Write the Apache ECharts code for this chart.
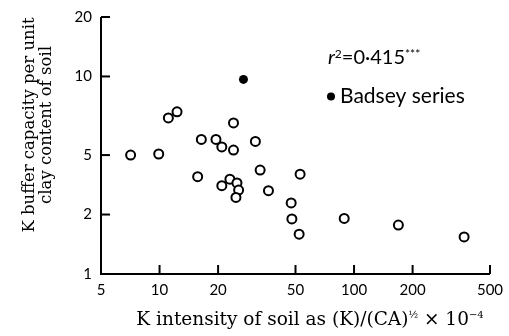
<!DOCTYPE html>
<html>
<head>
<meta charset="utf-8">
<script src="https://cdn.jsdelivr.net/npm/echarts@6/dist/echarts.min.js"></script>
<style>
  html, body { margin: 0; padding: 0; background: #fff; }
  #chart { width: 509px; height: 336px; }
</style>
</head>
<body>
<div id="chart"></div>
<script>
// values (both axes are log scales)
const intensity = [7.1, 9.9, 11.1, 12.3, 16.4, 15.7, 19.5, 20.9, 24.0, 24.0, 20.9, 23.0, 25.0,
  25.5, 24.7, 31.1, 32.9, 36.3, 47.5, 47.9, 52.2, 52.8, 89, 169, 368];
const buffer = [4.0, 4.05, 6.17, 6.62, 4.8, 3.11, 4.8, 4.4, 5.82, 4.24, 2.8, 3.02, 2.89,
  2.66, 2.44, 4.69, 3.36, 2.64, 2.29, 1.9, 1.59, 3.2, 1.91, 1.77, 1.54];
const badseyIntensity = [27.0];
const badseyBuffer = [9.66];

const xTicks = [5, 10, 20, 50, 100, 200, 500];
const xTickLabels = ['5', '10', '20', '50', '100', '200', '500'];
// the original figure draws its "5" tick at the height of 4 on the log scale
const yTicks = [1, 2, 4, 10, 20];
const yTickLabels = ['1', '2', '5', '10', '20'];

// axes run on log10 of the values
const lg = (v) => Math.log10(v);

const chart = echarts.init(document.getElementById('chart'));

const tickFont = { fontFamily: 'Lato', fontSize: 15, color: '#000' };
const titleFont = 'DejaVu Serif';

function logAxis(ticks, labels) {
  return {
    type: 'value',
    min: lg(ticks[0]),
    max: lg(ticks[ticks.length - 1]),
    // line and ticks are drawn below as graphics (v6 drops them with label customValues)
    axisLine: { show: false, onZero: false },
    axisTick: { show: false },
    axisLabel: {
      margin: 9,
      customValues: ticks.map(lg),
      formatter: (v) => {
        const i = ticks.findIndex((t) => Math.abs(lg(t) - v) < 1e-6);
        return i < 0 ? '' : labels[i];
      },
      ...tickFont,
    },
    splitLine: { show: false },
  };
}

const texts = [
  {
    type: 'text',
    left: 328,
    top: 48,
    style: {
      text: '{i|r}{s|2}{n|=0·415}{s|***}',
      rich: {
        i: { fontFamily: 'Lato', fontStyle: 'italic', fontSize: 20, fill: '#000' },
        n: { fontFamily: 'Lato', fontSize: 20, fill: '#000' },
        s: { fontFamily: 'Lato', fontSize: 12, fill: '#000', verticalAlign: 'top' },
      },
    },
  },
  {
    type: 'text',
    x: 310,
    y: 320,
    style: {
      text: '{t|K intensity of soil as (K)/(CA)}{s|½}{t| × 10}{s|−4}',
      textAlign: 'center',
      textVerticalAlign: 'middle',
      rich: {
        t: { fontFamily: titleFont, fontSize: 18.5, fill: '#000' },
        s: { fontFamily: titleFont, fontSize: 10, fill: '#000', verticalAlign: 'top' },
      },
    },
  },
  {
    type: 'text',
    x: 38.5,
    y: 125,
    rotation: Math.PI / 2,
    style: {
      text: 'K buffer capacity per unit\nclay content of soil',
      textAlign: 'center',
      textVerticalAlign: 'middle',
      fontFamily: titleFont,
      fontSize: 16.5,
      lineHeight: 17,
      fill: '#000',
    },
  },
];

chart.setOption({
  animation: false,
  grid: { left: 101, right: 19, top: 17, bottom: 62 },
  legend: {
    data: ['Badsey series'],
    left: 322,
    top: 81,
    icon: 'circle',
    itemWidth: 8,
    itemHeight: 8,
    itemGap: 5,
    textStyle: { fontFamily: 'Lato', fontSize: 21, color: '#000' },
  },
  xAxis: logAxis(xTicks, xTickLabels),
  yAxis: logAxis(yTicks, yTickLabels),
  graphic: texts,
  series: [
    {
      type: 'scatter',
      symbol: 'circle',
      symbolSize: 9,
      itemStyle: { color: '#fff', borderColor: '#000', borderWidth: 2, opacity: 1 },
      data: intensity.map((x, i) => [lg(x), lg(buffer[i])]),
    },
    {
      name: 'Badsey series',
      type: 'scatter',
      symbol: 'circle',
      symbolSize: 9,
      itemStyle: { color: '#000', opacity: 1 },
      data: badseyIntensity.map((x, i) => [lg(x), lg(badseyBuffer[i])]),
    },
  ],
});

// axis lines and inward ticks, placed through the chart's own scales
const px = (x, y) => chart.convertToPixel({ gridIndex: 0 }, [lg(x), lg(y)]);
const x0 = xTicks[0], x1 = xTicks[xTicks.length - 1];
const y0 = yTicks[0], y1 = yTicks[yTicks.length - 1];
const stroke = { stroke: '#000', lineWidth: 2 };
const origin = px(x0, y0);
const axes = [
  { type: 'polyline', shape: { points: [px(x0, y1), origin, px(x1, y0)] }, style: stroke, z: 10 },
];
xTicks.forEach((t) => {
  const p = px(t, y0);
  axes.push({ type: 'line', shape: { x1: p[0], y1: p[1], x2: p[0], y2: p[1] - 9 }, style: stroke, z: 10 });
});
yTicks.forEach((t) => {
  const p = px(x0, t);
  axes.push({ type: 'line', shape: { x1: p[0], y1: p[1], x2: p[0] + 9, y2: p[1] }, style: stroke, z: 10 });
});
chart.setOption({ graphic: texts.concat(axes) });
</script>
</body>
</html>
